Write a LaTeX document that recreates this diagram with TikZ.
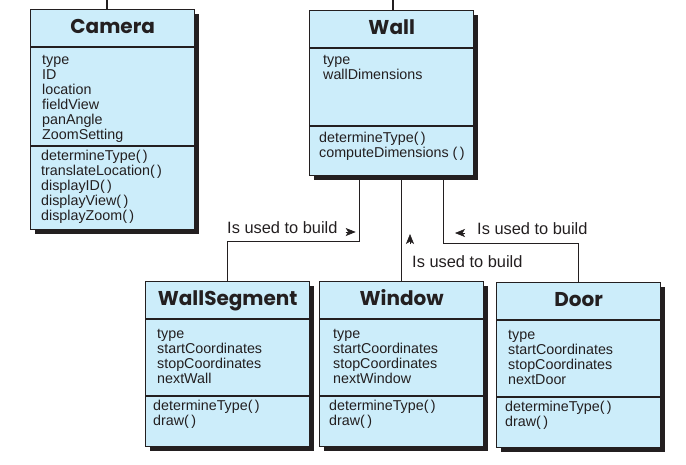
\documentclass[tikz,border=0pt]{standalone}
\usepackage{fontspec}
\setmainfont{Liberation Sans}
\newfontfamily\titlefont{Poppins}
\usetikzlibrary{shadows,arrows.meta,positioning}

\definecolor{boxblue}{RGB}{204,237,250}
\definecolor{inkgray}{RGB}{35,31,32}

\tikzset{
  classbox/.style={draw=inkgray, line width=1.4pt, fill=boxblue, anchor=north west, inner sep=0pt,
    minimum width=164pt, drop shadow={shadow xshift=4pt, shadow yshift=-4pt, fill=inkgray, opacity=1}},
  classname/.style={anchor=base, inner sep=0pt, text=inkgray, font=\titlefont\bfseries\fontsize{20}{22}\selectfont},
  % anchored at the baseline of the last line
  members/.style={anchor=base west, align=left, inner sep=0pt, text=inkgray, font=\fontsize{14.3}{15}\selectfont},
  divider/.style={draw=inkgray, line width=1.1pt},
  link/.style={draw=inkgray, line width=1.3pt},
  linklabel/.style={anchor=base west, inner sep=0pt, text=inkgray, font=\fontsize{16.4}{18}\selectfont},
  usedarrow/.style={-{Stealth[length=10pt,width=8pt,inset=2.5pt]}, draw=inkgray, fill=inkgray, line width=0.6pt}
}

\begin{document}
\begin{tikzpicture}[x=1pt,y=-1pt]
    \useasboundingbox (0,0) rectangle (686,464);
    % classes
    \node[classbox, minimum height=220pt] (camera) at (30,9) {};
    \node[classname] (camname) at ([yshift=-24pt]camera.north) {Camera};
    \draw[divider] ([yshift=-38pt]camera.north west) -- ([yshift=-38pt]camera.north east);
    \draw[divider] ([yshift=-137pt]camera.north west) -- ([yshift=-137pt]camera.north east);
    \node[members] (camattr) at ([xshift=12pt,yshift=-130pt]camera.north west) {type\\ID\\location\\fieldView\\panAngle\\ZoomSetting};
    \node[members] (cammeth) at ([xshift=11pt,yshift=-211pt]camera.north west) {determineType(\,)\\translateLocation(\,)\\displayID(\,)\\displayView(\,)\\displayZoom(\,)};

    \node[classbox, minimum height=165pt] (wall) at (309,10) {};
    \node[classname] (wallname) at ([yshift=-24pt]wall.north) {Wall};
    \draw[divider] ([yshift=-38pt]wall.north west) -- ([yshift=-38pt]wall.north east);
    \draw[divider] ([yshift=-116pt]wall.north west) -- ([yshift=-116pt]wall.north east);
    \node[members] (wallattr) at ([xshift=14pt,yshift=-69pt]wall.north west) {type\\wallDimensions};
    \node[members] (wallmeth) at ([xshift=10pt,yshift=-147pt]wall.north west) {determineType(\,)\\computeDimensions (\,)};

    \node[classbox, minimum height=165pt] (wallseg) at (145,281) {};
    \node[classname] (segname) at ([yshift=-24pt]wallseg.north) {WallSegment};
    \draw[divider] ([yshift=-38pt]wallseg.north west) -- ([yshift=-38pt]wallseg.north east);
    \draw[divider] ([yshift=-115pt]wallseg.north west) -- ([yshift=-115pt]wallseg.north east);
    \node[members] (segattr) at ([xshift=12pt,yshift=-102pt]wallseg.north west) {type\\startCoordinates\\stopCoordinates\\nextWall};
    \node[members] (segmeth) at ([xshift=8pt,yshift=-144pt]wallseg.north west) {determineType(\,)\\draw(\,)};

    \node[classbox, minimum height=165pt] (window) at (319,281) {};
    \node[classname] (winname) at ([yshift=-24pt]window.north) {Window};
    \draw[divider] ([yshift=-38pt]window.north west) -- ([yshift=-38pt]window.north east);
    \draw[divider] ([yshift=-115pt]window.north west) -- ([yshift=-115pt]window.north east);
    \node[members] (winattr) at ([xshift=14pt,yshift=-102pt]window.north west) {type\\startCoordinates\\stopCoordinates\\nextWindow};
    \node[members] (winmeth) at ([xshift=10pt,yshift=-144pt]window.north west) {determineType(\,)\\draw(\,)};

    \node[classbox, minimum height=165pt] (door) at (496,282) {};
    \node[classname] (doorname) at ([yshift=-24pt]door.north) {Door};
    \draw[divider] ([yshift=-38pt]door.north west) -- ([yshift=-38pt]door.north east);
    \draw[divider] ([yshift=-115pt]door.north west) -- ([yshift=-115pt]door.north east);
    \node[members] (doorattr) at ([xshift=12pt,yshift=-102pt]door.north west) {type\\startCoordinates\\stopCoordinates\\nextDoor};
    \node[members] (doormeth) at ([xshift=9pt,yshift=-144pt]door.north west) {determineType(\,)\\draw(\,)};

    % connectors
    \coordinate (camstub) at (107,0);
    \coordinate (wallstub) at (393,0);
    \draw[link] (camstub) -- (camstub |- camera.north);
    \draw[link] (wallstub) -- (wallstub |- wall.north);
    \draw[link] ([xshift=-32pt]wall.south) -- ++(0,65) -| (wallseg.north);
    \draw[link] (window.north) -- (window.north |- wall.south);
    \draw[link] ([xshift=52pt]wall.south) -- ++(0,67) -| (door.north);

    % labels
    \node[linklabel] (segnote) at (227,233) {Is used to build};
    \draw[usedarrow] ([xshift=8pt,yshift=1pt]segnote.base east) -- ++(10,0);
    \node[linklabel] (winnote) at (412,267) {Is used to build};
    \draw[usedarrow] ([xshift=-2pt,yshift=23pt]winnote.base west) -- ++(0,-10);
    \node[linklabel] (doornote) at (477,234) {Is used to build};
    \draw[usedarrow] ([xshift=-12pt,yshift=1pt]doornote.base west) -- ++(-10,0);
\end{tikzpicture}
\end{document}
